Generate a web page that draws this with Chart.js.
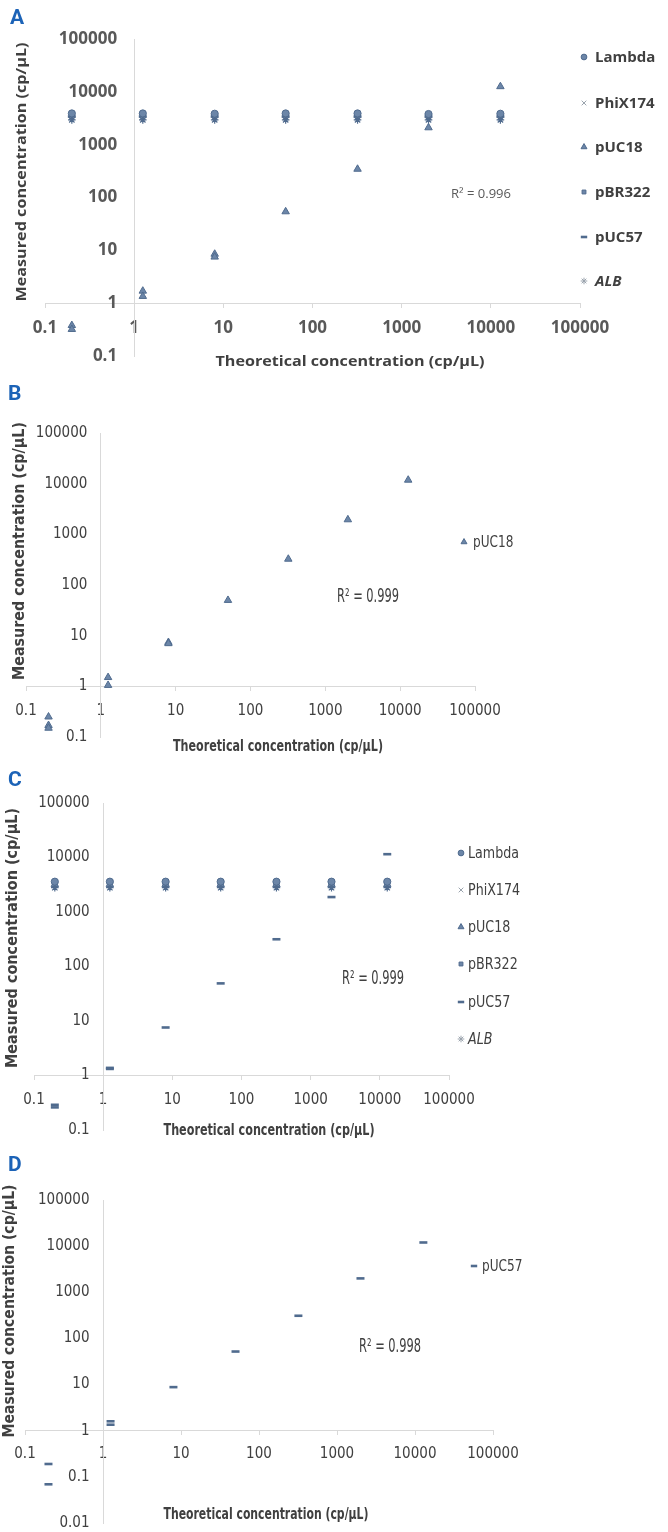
<!DOCTYPE html>
<html><head><meta charset="utf-8">
<script src="https://cdn.jsdelivr.net/npm/chart.js@4.4.1/dist/chart.umd.min.js"></script>
<style>
html,body{margin:0;padding:0;background:#fff;}
#wrap{position:relative;width:668px;height:1532px;overflow:hidden;background:#fff;}
canvas{position:absolute;left:0;}
</style></head><body>
<div id="wrap">
<canvas id="cA" width="668" height="380" style="top:0px"></canvas>
<canvas id="cB" width="668" height="380" style="top:380px"></canvas>
<canvas id="cC" width="668" height="380" style="top:760px"></canvas>
<canvas id="cD" width="668" height="392" style="top:1140px"></canvas>
</div>
<script>
// ---------------- DATA ----------------
const xTickLabels = ['0.1','1','10','100','1000','10000','100000'];
const yTickLabels = ['0.1','1','10','100','1000','10000','100000'];
const yTickLabelsD = ['0.01','0.1','1','10','100','1000','10000','100000'];
const xTitle = 'Theoretical concentration (cp/µL)';
const yTitle = 'Measured concentration (cp/µL)';
const seriesNames = ['Lambda','PhiX174','pUC18','pBR322','pUC57','ALB'];

// theoretical concentrations of the dilution series
const dilutionX = [0.2, 1.25, 8, 50, 320, 2000, 12800];

// Panel A (pUC18 varied, others constant)
const aLambda  = [3900, 3900, 3850, 3900, 3900, 3800, 3850];
const aPhiX174 = [3300, 3300, 3300, 3300, 3300, 3300, 3300];
const aPBR322  = [3500, 3500, 3500, 3500, 3500, 3450, 3500];
const aPUC57   = [3400, 3400, 3400, 3400, 3400, 3400, 3400];
const aALB     = [2950, 2950, 2950, 2950, 2950, 2950, 2950];
const aPUC18X  = [0.2, 0.2, 1.25, 1.25, 8, 8, 50, 320, 2000, 12800];
const aPUC18Y  = [0.38, 0.32, 1.7, 1.35, 8.5, 7.5, 54, 345, 2100, 12600];
const aR2 = 'R² = 0.996';

// Panel B (pUC18 alone)
const bPUC18X = [0.2, 0.2, 0.2, 1.25, 1.25, 8, 8, 50, 320, 2000, 12800];
const bPUC18Y = [0.25, 0.17, 0.15, 1.5, 1.05, 7.4, 7.0, 50, 325, 1950, 11800];
const bR2 = 'R² = 0.999';

// Panel C (pUC57 varied, others constant)
const cLambda  = [3600, 3600, 3600, 3600, 3600, 3600, 3600];
const cPhiX174 = [3100, 3100, 3100, 3100, 3100, 3100, 3100];
const cPUC18   = [3200, 3200, 3200, 3200, 3200, 3200, 3200];
const cPBR322  = [3300, 3300, 3300, 3300, 3300, 3300, 3300];
const cALB     = [2800, 2800, 2800, 2800, 2800, 2800, 2800];
const cPUC57X  = [0.2, 0.2, 1.25, 1.25, 8, 50, 320, 2000, 12800];
const cPUC57Y  = [0.29, 0.26, 1.38, 1.32, 7.6, 49, 316, 1880, 11500];
const cR2 = 'R² = 0.999';

// Panel D (pUC57 alone)
const dPUC57X = [0.2, 0.2, 1.25, 1.25, 8, 50, 320, 2000, 12800];
const dPUC57Y = [0.19, 0.069, 1.6, 1.35, 8.8, 52, 310, 2000, 12000];
const dR2 = 'R² = 0.998';

// ---------------- STYLE ----------------
const FILL = '#6c86a8';
const EDGE = '#506b8e';
const LIGHT = '#9aa3ad';
const AXIS = '#d9d9d9';
const STYLE = {
  Lambda:  {pointStyle:'circle',   radius:3.6, bw:1},
  PhiX174: {pointStyle:'crossRot', radius:3.6, bw:1.2},
  pUC18:   {pointStyle:'triangle', radius:4.3, bw:1},
  pBR322:  {pointStyle:'rect',     radius:3.4, bw:1},
  pUC57:   {pointStyle:'line',     radius:4,   bw:2.6},
  ALB:     {pointStyle:'star',     radius:3.8, bw:1.2}
};
const pts = (xs, ys) => ys.map((y, i) => ({x: xs[i], y}));
function ds(name, data) {
  const s = STYLE[name];
  return {label: name, data, pointStyle: s.pointStyle, pointRadius: s.radius,
    pointBorderWidth: s.bw, backgroundColor: FILL, borderColor: EDGE, pointHoverRadius: s.radius};
}

function fitText(ctx, text, x, y, w, font, rot, align) {
  ctx.save();
  ctx.font = font;
  const w0 = ctx.measureText(text).width;
  ctx.translate(x, y);
  ctx.rotate(rot || 0);
  ctx.scale(w / w0, 1);
  ctx.textAlign = align || 'center';
  ctx.textBaseline = 'middle';
  ctx.fillText(text, 0, 0);
  ctx.restore();
}
function squashText(ctx, text, x, y, k, font) {
  ctx.save();
  ctx.font = font;
  ctx.translate(x, y);
  ctx.scale(k, 1);
  ctx.textAlign = 'left';
  ctx.textBaseline = 'middle';
  ctx.fillText(text, 0, 0);
  ctx.restore();
}

const decorPlugin = {
  id: 'panelDecor',
  afterDraw(chart, args, o) {
    const ctx = chart.ctx;
    ctx.save();
    ctx.fillStyle = '#1c63b7';
    ctx.font = 'bold 21px Roboto, "Liberation Sans", sans-serif';
    ctx.textAlign = 'left'; ctx.textBaseline = 'middle';
    ctx.fillText(o.letter, o.letterPos[0], o.letterPos[1]);
    ctx.fillStyle = o.titleColor;
    fitText(ctx, xTitle, o.xT[0], o.xT[1], o.xT[2], o.titleFont, 0);
    fitText(ctx, yTitle, o.yT[0], o.yT[1], o.yT[2], o.titleFont, -Math.PI / 2);
    ctx.fillStyle = o.r2Color;
    fitText(ctx, o.r2, o.r2Pos[0], o.r2Pos[1], o.r2Pos[2], o.r2Font, 0);
    // legend
    chart.data.datasets.forEach((d, i) => {
      const ly = o.legendY[i];
      const light = d.pointStyle === 'crossRot' || d.pointStyle === 'star';
      ctx.fillStyle = FILL; ctx.strokeStyle = light ? LIGHT : EDGE;
      ctx.lineWidth = light ? 1 : d.pointBorderWidth;
      Chart.helpers.drawPoint(ctx, {pointStyle: d.pointStyle, radius: light ? 3.3 : d.pointRadius * 0.8,
        borderWidth: light ? 1 : d.pointBorderWidth, rotation: 0}, o.legendX, ly);
      ctx.fillStyle = o.legendColor;
      const f = (d.label === 'ALB' ? 'italic ' : '') + o.legendFont;
      squashText(ctx, d.label, o.legendX + o.legendGap, ly + 1, o.legendK, f);
    });
    ctx.restore();
  }
};

function makePanel(id, c) {
  const xVals = xTickLabels.map(Number);
  const yVals = c.yLabels.map(Number);
  return new Chart(document.getElementById(id), {
    type: 'scatter',
    data: {datasets: c.datasets},
    options: {
      responsive: false, animation: false, devicePixelRatio: 1, events: [],
      layout: {padding: c.padding},
      plugins: {legend: {display: false}, tooltip: {enabled: false}, panelDecor: c.decor},
      scales: {
        x: {
          type: 'logarithmic', min: xVals[0], max: xVals[xVals.length - 1],
          position: {y: 1},
          afterBuildTicks: s => { s.ticks = xVals.map(v => ({value: v})); },
          afterFit: s => { s.height = 0; },
          grid: {display: true, drawOnChartArea: false, drawTicks: true, tickLength: c.tickLen, color: AXIS, lineWidth: 1},
          border: {display: true, color: AXIS, width: 1},
          ticks: {autoSkip: false, maxRotation: 0, minRotation: 0, padding: c.xPad, font: c.tickFont, color: c.tickColor,
            callback: (v, i) => xTickLabels[i]}
        },
        y: {
          type: 'logarithmic', min: yVals[0], max: yVals[yVals.length - 1],
          position: {x: 1},
          afterBuildTicks: s => { s.ticks = yVals.map(v => ({value: v})); },
          afterFit: s => { s.width = 0; },
          grid: {display: false, drawTicks: false},
          border: {display: true, color: AXIS, width: 1},
          ticks: {autoSkip: false, padding: 0, font: c.tickFont, color: c.tickColor,
            callback: (v, i) => c.yLabels[i] + '\u2003'}
        }
      }
    },
    plugins: [decorPlugin]
  });
}

const OPEN = '"Open Sans", "DejaVu Sans", sans-serif';
const NARROW = '"Liberation Sans Narrow", "DejaVu Sans Condensed", "Liberation Sans", sans-serif';

makePanel('cA', {
  yLabels: yTickLabels,
  padding: {left: 45, right: 88, top: 39, bottom: 24},
  tickLen: 4, xPad: 11,
  tickFont: {family: OPEN, size: 17, weight: 'bold'}, tickColor: '#595959',
  datasets: [
    ds('Lambda', pts(dilutionX, aLambda)),
    ds('PhiX174', pts(dilutionX, aPhiX174)),
    ds('pUC18', pts(aPUC18X, aPUC18Y)),
    ds('pBR322', pts(dilutionX, aPBR322)),
    ds('pUC57', pts(dilutionX, aPUC57)),
    ds('ALB', pts(dilutionX, aALB))
  ],
  decor: {
    letter: 'A', letterPos: [10, 19],
    titleFont: 'bold 14px ' + OPEN, titleColor: '#404040',
    xT: [350, 362, 269], yT: [22, 172, 259],
    r2: aR2, r2Font: '12px ' + OPEN, r2Color: '#595959', r2Pos: [481, 195, 60],
    legendX: 584, legendGap: 11, legendY: [57, 103, 147, 192, 237, 281],
    legendFont: 'bold 15px ' + OPEN, legendColor: '#404040', legendK: 1
  }
});

makePanel('cB', {
  yLabels: yTickLabels,
  padding: {left: 26, right: 193, top: 53, bottom: 23},
  tickLen: 4, xPad: 12,
  tickFont: {family: NARROW, size: 15}, tickColor: '#404040',
  datasets: [ds('pUC18', pts(bPUC18X, bPUC18Y))],
  decor: {
    letter: 'B', letterPos: [8, 15],
    titleFont: 'bold 15px ' + NARROW, titleColor: '#404040',
    xT: [278, 367, 210], yT: [20, 171, 258],
    r2: bR2, r2Font: '19px ' + NARROW, r2Color: '#404040', r2Pos: [368, 217, 62],
    legendX: 464, legendGap: 9, legendY: [162],
    legendFont: '16px ' + NARROW, legendColor: '#404040', legendK: 0.84
  }
});

makePanel('cC', {
  yLabels: yTickLabels,
  padding: {left: 34, right: 219, top: 43, bottom: 10},
  tickLen: 4, xPad: 12,
  tickFont: {family: NARROW, size: 15}, tickColor: '#404040',
  datasets: [
    ds('Lambda', pts(dilutionX, cLambda)),
    ds('PhiX174', pts(dilutionX, cPhiX174)),
    ds('pUC18', pts(dilutionX, cPUC18)),
    ds('pBR322', pts(dilutionX, cPBR322)),
    ds('pUC57', pts(cPUC57X, cPUC57Y)),
    ds('ALB', pts(dilutionX, cALB))
  ],
  decor: {
    letter: 'C', letterPos: [8, 21],
    titleFont: 'bold 15px ' + NARROW, titleColor: '#404040',
    xT: [269, 371, 211], yT: [13, 178, 260],
    r2: cR2, r2Font: '19px ' + NARROW, r2Color: '#404040', r2Pos: [373, 219, 62],
    legendX: 461, legendGap: 7, legendY: [93, 130, 167, 204, 242, 279],
    legendFont: '16px ' + NARROW, legendColor: '#404040', legendK: 0.88
  }
});

makePanel('cD', {
  yLabels: yTickLabelsD,
  padding: {left: 25, right: 175, top: 60, bottom: 7},
  tickLen: 4, xPad: 10,
  tickFont: {family: NARROW, size: 15}, tickColor: '#404040',
  datasets: [ds('pUC57', pts(dPUC57X, dPUC57Y))],
  decor: {
    letter: 'D', letterPos: [8, 26],
    titleFont: 'bold 15px ' + NARROW, titleColor: '#404040',
    xT: [266, 375, 205], yT: [10, 171, 253],
    r2: dR2, r2Font: '19px ' + NARROW, r2Color: '#404040', r2Pos: [390, 207, 62],
    legendX: 474, legendGap: 8, legendY: [126],
    legendFont: '16px ' + NARROW, legendColor: '#404040', legendK: 0.84
  }
});
</script>
</body></html>
